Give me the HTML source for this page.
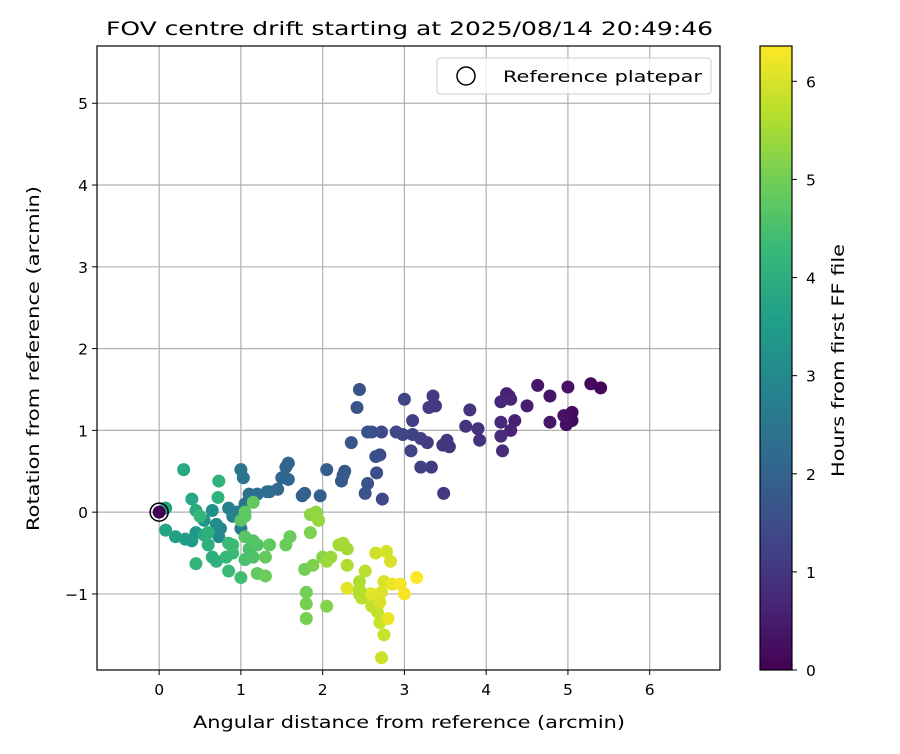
<!DOCTYPE html>
<html><head><meta charset="utf-8"><style>
body{margin:0;background:#fff;font-family:"DejaVu Sans","Liberation Sans",sans-serif;}
svg text{font-family:"DejaVu Sans","Liberation Sans",sans-serif;fill:#000;}
</style></head><body>
<svg id="c" width="900" height="750" viewBox="0 0 900 750"></svg>
<script>
const refPoint=[0,0];
const xTicks=[0,1,2,3,4,5,6];
const yTicks=[-1,0,1,2,3,4,5];
const cbTicks=[0,1,2,3,4,5,6];
const xs=[5.4,5.28,5.05,5.05,4.98,4.95,5.0,4.78,4.78,4.63,4.5,4.35,4.3,4.28,4.25,4.3,4.18,4.18,4.18,4.2,3.9,3.92,3.8,3.75,3.55,3.52,3.47,3.48,3.38,3.35,3.33,3.3,3.28,3.2,3.2,3.1,3.1,3.08,3.0,2.98,2.9,2.73,2.72,2.7,2.65,2.66,2.6,2.55,2.55,2.52,2.45,2.42,2.35,2.27,2.25,2.23,2.05,1.97,1.78,1.75,1.58,1.55,1.58,1.5,1.45,1.35,1.32,1.2,1.1,1.1,1.05,1.03,1.0,1.0,0.95,0.9,0.85,0.75,0.73,0.7,0.65,0.55,0.45,0.4,0.32,0.2,0.08,0.08,0.3,0.4,0.45,0.55,0.6,0.65,0.7,0.73,0.72,0.5,0.45,0.82,0.9,0.85,1.0,0.9,1.1,1.05,1.15,1.2,1.15,1.05,1.0,1.05,1.05,1.15,1.35,1.3,1.2,1.3,1.55,1.6,1.78,1.8,1.8,1.8,1.88,1.85,2.05,2.0,1.85,1.92,1.95,2.05,2.1,2.2,2.25,2.3,2.3,2.45,2.45,2.48,2.52,2.58,2.6,2.67,2.7,2.75,2.72,2.65,2.78,2.83,2.75,2.72,2.6,2.3,2.8,2.85,2.95,3.0,3.15,2.45,2.7,1.6,0.85,0.6];
const ys=[1.52,1.57,1.22,1.12,1.07,1.18,1.53,1.42,1.1,1.55,1.3,1.12,1.0,1.42,1.45,1.38,1.35,1.1,0.93,0.75,1.02,0.88,1.25,1.05,0.8,0.88,0.82,0.23,1.3,1.42,0.55,1.28,0.85,0.9,0.55,1.12,0.95,0.75,1.38,0.95,0.98,0.16,0.98,0.7,0.68,0.48,0.98,0.98,0.35,0.23,1.5,1.28,0.85,0.5,0.45,0.38,0.52,0.2,0.23,0.2,0.6,0.55,0.4,0.42,0.28,0.25,0.25,0.22,0.22,0.15,0.1,0.42,0.52,-0.2,0.0,-0.05,0.05,-0.2,-0.3,-0.15,0.02,-0.1,-0.25,-0.35,-0.33,-0.3,-0.22,0.05,0.52,0.16,0.02,-0.28,-0.25,-0.55,-0.6,0.38,0.18,-0.05,-0.63,-0.55,-0.5,-0.72,-0.8,-0.4,-0.45,-0.58,-0.55,-0.4,-0.35,-0.3,-0.1,-0.05,0.0,0.12,-0.4,-0.55,-0.75,-0.78,-0.4,-0.3,-0.7,-0.98,-1.12,-1.3,-0.65,-0.25,-1.15,-0.55,-0.03,0.0,-0.1,-0.6,-0.55,-0.4,-0.38,-0.45,-0.65,-0.85,-1.0,-1.05,-0.72,-1.0,-1.15,-1.22,-1.35,-1.5,-1.78,-0.5,-0.48,-0.6,-0.85,-0.98,-1.0,-0.93,-1.3,-0.88,-0.88,-1.0,-0.8,-0.95,-1.1,-0.3,-0.38,-0.4];
const hours=[0.1,0.15,0.2,0.2,0.25,0.3,0.3,0.35,0.4,0.4,0.5,0.6,0.65,0.6,0.6,0.65,0.7,0.75,0.8,0.8,0.9,0.9,0.95,0.95,1.0,1.0,1.0,1.05,1.05,1.1,1.1,1.1,1.15,1.2,1.2,1.2,1.25,1.25,1.3,1.3,1.35,1.4,1.4,1.45,1.5,1.5,1.55,1.6,1.6,1.65,1.65,1.7,1.7,1.75,1.8,1.8,1.85,1.9,1.95,2.0,2.0,2.05,2.1,2.1,2.15,2.2,2.25,2.3,2.3,2.4,2.45,2.5,2.5,2.6,2.7,2.8,2.8,2.9,3.0,3.1,3.2,3.3,3.4,3.5,3.5,3.6,3.7,3.7,3.8,3.8,3.9,3.9,4.0,4.0,4.05,4.1,4.1,4.2,4.2,4.25,4.3,4.3,4.4,4.4,4.5,4.5,4.6,4.6,4.65,4.7,4.7,4.75,4.75,4.8,4.8,4.85,4.85,4.9,4.9,4.95,5.0,5.0,5.05,5.05,5.1,5.1,5.15,5.2,5.25,5.3,5.35,5.4,5.4,5.45,5.5,5.5,5.6,5.6,5.65,5.7,5.7,5.75,5.8,5.8,5.85,5.85,5.9,5.9,5.95,6.0,6.0,6.05,6.1,6.1,6.2,6.2,6.25,6.3,6.35,5.65,6.0,4.9,4.3,4.0];
const hMax=6.36;
const X0=97,X1=720,Y0=46,Y1=670,xmin=-0.76,xmax=6.86,ymin=-1.93,ymax=5.70;
const sx=v=>X0+(v-xmin)/(xmax-xmin)*(X1-X0);
const sy=v=>Y1-(v-ymin)/(ymax-ymin)*(Y1-Y0);
const vir=[[68,1,84],[72,40,120],[62,74,137],[49,104,142],[38,130,142],[31,158,137],[53,183,121],[109,205,89],[180,222,44],[253,231,37]];
function cmap(t){t=Math.max(0,Math.min(1,t));const f=t*(vir.length-1),i=Math.min(vir.length-2,Math.floor(f)),r=f-i;const c=vir[i].map((a,k)=>Math.round(a+(vir[i+1][k]-a)*r));return `rgb(${c[0]},${c[1]},${c[2]})`;}
const svg=document.getElementById('c');const NS='http://www.w3.org/2000/svg';
function mk(tag,at,parent){const e=document.createElementNS(NS,tag);for(const k in at)e.setAttribute(k,at[k]);(parent||svg).appendChild(e);return e;}
xTicks.forEach(t=>{const l=mk('line',{x1:sx(t),x2:sx(t),y1:Y0,y2:Y1,stroke:'#b0b0b0','stroke-width':1.2});


mk('line',{x1:sx(t),x2:sx(t),y1:Y1,y2:Y1+5,stroke:'#000'});
const tx=mk('text',{x:sx(t),y:Y1+25,'text-anchor':'middle','font-size':15.5});tx.textContent=t;

});
yTicks.forEach(t=>{const l=mk('line',{x1:X0,x2:X1,y1:sy(t),y2:sy(t),stroke:'#b0b0b0','stroke-width':1.2});


mk('line',{x1:X0-5,x2:X0,y1:sy(t),y2:sy(t),stroke:'#000'});
const tx=mk('text',{x:X0-9,y:sy(t)+6,'text-anchor':'end','font-size':15.5});tx.textContent=(t<0?'\u2212'+(-t):t);

});
xs.forEach((x,i)=>{const c=mk('circle',{cx:sx(x),cy:sy(ys[i]),r:6.5,fill:cmap(hours[i]/hMax)});

});
const rp=mk('circle',{cx:sx(refPoint[0]),cy:sy(refPoint[1]),r:6.5,fill:cmap(0)});


const rr=mk('circle',{cx:sx(refPoint[0]),cy:sy(refPoint[1]),r:9,fill:'none',stroke:'#000','stroke-width':1.5});


const fr=mk('rect',{x:X0,y:Y0,width:X1-X0,height:Y1-Y0,fill:'none',stroke:'#000','stroke-width':1.2});


const lg=mk('g',{});


mk('rect',{x:437,y:58,width:274,height:36,rx:3,fill:'#fff','fill-opacity':0.8,stroke:'#ccc'},lg);
mk('circle',{cx:466,cy:76,r:9,fill:'none',stroke:'#000','stroke-width':1.5},lg);
const lt=mk('text',{x:503,y:82,'font-size':16,textLength:199,lengthAdjust:'spacingAndGlyphs'},lg);lt.textContent='Reference platepar';
const ti=mk('text',{x:106,y:35,'font-size':19,textLength:607,lengthAdjust:'spacingAndGlyphs'});ti.textContent='FOV centre drift starting at 2025/08/14 20:49:46';


const xl=mk('text',{x:193,y:728,'font-size':16.5,textLength:432,lengthAdjust:'spacingAndGlyphs'});xl.textContent='Angular distance from reference (arcmin)';


const yl=mk('text',{x:0,y:0,'font-size':16.5,textLength:345,lengthAdjust:'spacingAndGlyphs',transform:'translate(39 531) rotate(-90)'});yl.textContent='Rotation from reference (arcmin)';


const defs=mk('defs',{});const gr=mk('linearGradient',{id:'vg',x1:0,y1:1,x2:0,y2:0},defs);
vir.forEach((c,i)=>mk('stop',{offset:i/(vir.length-1),'stop-color':`rgb(${c})`},gr));
const cb=mk('rect',{x:760,y:Y0,width:32,height:Y1-Y0,fill:'url(#vg)',stroke:'#000','stroke-width':1.2});


const cy=v=>Y1-v/hMax*(Y1-Y0);
cbTicks.forEach(t=>{mk('line',{x1:792,x2:797,y1:cy(t),y2:cy(t),stroke:'#000'});
const tx=mk('text',{x:806,y:cy(t)+6,'font-size':15.5});tx.textContent=t;

});
const cl=mk('text',{x:0,y:0,'font-size':16.5,textLength:233,lengthAdjust:'spacingAndGlyphs',transform:'translate(844 477) rotate(-90)'});cl.textContent='Hours from first FF file';


</script>
</body></html>
